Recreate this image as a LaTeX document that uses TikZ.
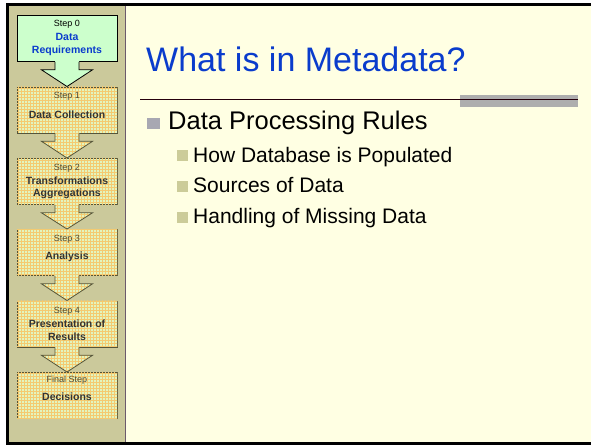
\documentclass[tikz,border=0pt]{standalone}
\usepackage{fontspec}
\setmainfont{Liberation Sans}
\usetikzlibrary{patterns}
\definecolor{panelkhaki}{HTML}{CBC99B}
\definecolor{slidecream}{HTML}{FFFFE3}
\definecolor{panelline}{HTML}{6C5A6C}
\definecolor{stepgreen}{HTML}{CCFFCC}
\definecolor{plaidbase}{HTML}{E2F4BE}
\definecolor{plaidline}{HTML}{F4CA70}
\definecolor{plaidedge}{HTML}{55553A}
\definecolor{titleblue}{HTML}{0A3CCC}
\definecolor{steptext}{HTML}{4F4A35}
\definecolor{rulegrey}{HTML}{AEAEAE}
\definecolor{bulletgrey}{HTML}{A8A8B2}
\definecolor{bulletkhaki}{HTML}{CCCC99}
\tikzset{
  stepbox/.style={anchor=north,minimum width=100pt,minimum height=46pt,inner sep=0pt,line width=0.8pt},
  plaid/.style={fill=plaidbase,postaction={pattern=grid,pattern color=plaidline}},
  steplbl/.style={inner sep=0pt,font=\fontsize{9}{10}\selectfont,text=steptext},
  steptitle/.style={inner sep=0pt,align=center,font=\fontsize{10.5}{12.5}\selectfont\bfseries,text=black!80},
  txt/.style={anchor=base west,inner sep=0pt}
}
% arrow from the bottom of one step box to the top of the next
\newcommand\steparrow[4]{%
  \fill[#3] ([xshift=-12pt,yshift=1pt]#1.south) -- ([xshift=-12pt,yshift=-8pt]#1.south)
    -- ([xshift=-25.5pt,yshift=-8pt]#1.south) -- (#2.north) -- ([xshift=25.5pt,yshift=-8pt]#1.south)
    -- ([xshift=12pt,yshift=-8pt]#1.south) -- ([xshift=12pt,yshift=1pt]#1.south) -- cycle;
  \draw[#4,line width=0.8pt,line join=miter] ([xshift=-12pt]#1.south) -- ([xshift=-12pt,yshift=-8pt]#1.south)
    -- ([xshift=-25.5pt,yshift=-8pt]#1.south) -- (#2.north) -- ([xshift=25.5pt,yshift=-8pt]#1.south)
    -- ([xshift=12pt,yshift=-8pt]#1.south) -- ([xshift=12pt]#1.south);}
\begin{document}
\begin{tikzpicture}[x=1pt,y=-1pt]
\useasboundingbox (0,0) rectangle (591,445);
\fill[white] (0,0) rectangle (591,445);
% panels
\fill[panelkhaki] (9,6) rectangle (125,442);
\fill[slidecream] (126,6) rectangle (591,442);
\draw[panelline,line width=1.5pt] (125.5,6) -- (125.5,442);
\draw[black,line width=3pt] (6,4.5) -- (591,4.5);
\draw[black,line width=3pt] (7.5,3) -- (7.5,445);
\draw[black,line width=3pt] (6,443.5) -- (591,443.5);
% step boxes
\node[stepbox,draw=black,fill=stepgreen] (s0) at (67,15) {};
\node[stepbox,draw=plaidedge,plaid] (s1) at (67,86.5) {};
\node[stepbox,draw=plaidedge,plaid] (s2) at (67,158) {};
\node[stepbox,draw=plaidedge,plaid] (s3) at (67,229) {};
\node[stepbox,draw=plaidedge,plaid] (s4) at (67,300.5) {};
\node[stepbox,draw=plaidedge,plaid] (s5) at (67,372) {};
\steparrow{s0}{s1}{stepgreen}{black}
\steparrow{s1}{s2}{plaid}{plaidedge}
\steparrow{s2}{s3}{plaid}{plaidedge}
\steparrow{s3}{s4}{plaid}{plaidedge}
\steparrow{s4}{s5}{plaid}{plaidedge}
% step texts
\node[steplbl,text=black] at ([yshift=-9pt]s0.north) {Step 0};
\node[steptitle,text=titleblue] at ([yshift=-29.5pt]s0.north) {Data\\Requirements};
\node[steplbl] at ([yshift=-9.5pt]s1.north) {Step 1};
\node[steptitle] at ([yshift=-28.5pt]s1.north) {Data Collection};
\node[steplbl] at ([yshift=-10pt]s2.north) {Step 2};
\node[steptitle] at ([yshift=-30pt]s2.north) {Transformations\\Aggregations};
\node[steplbl] at ([yshift=-10pt]s3.north) {Step 3};
\node[steptitle] at ([yshift=-28pt]s3.north) {Analysis};
\node[steplbl] at ([yshift=-11pt]s4.north) {Step 4};
\node[steptitle] at ([yshift=-29.5pt]s4.north) {Presentation of\\Results};
\node[steplbl] at ([yshift=-8pt]s5.north) {Final Step};
\node[steptitle] at ([yshift=-25pt]s5.north) {Decisions};
% slide title and rule
\node[txt,text=titleblue,font=\fontsize{34}{40}\selectfont] (title) at (146,71) {What is in Metadata?};
\fill[rulegrey] (460,95) rectangle (578,107);
\draw[black!80!purple,line width=0.8pt] (140,99) -- (578,99);
% bullets
\fill[bulletgrey] (147,117.5) rectangle (159.5,129);
\node[txt,font=\fontsize{25.5}{30}\selectfont] (b1) at (168,129.5) {Data Processing Rules};
\fill[bulletkhaki] (177,150) rectangle (187.5,161);
\node[txt,font=\fontsize{21}{25}\selectfont] (b11) at (193,162) {How Database is Populated};
\fill[bulletkhaki] (177,180.5) rectangle (187.5,191.5);
\node[txt,font=\fontsize{21}{25}\selectfont] (b12) at (193,192.5) {Sources of Data};
\fill[bulletkhaki] (177,211.5) rectangle (187.5,222.5);
\node[txt,font=\fontsize{21}{25}\selectfont] (b13) at (193,223) {Handling of Missing Data};
\end{tikzpicture}
\end{document}
